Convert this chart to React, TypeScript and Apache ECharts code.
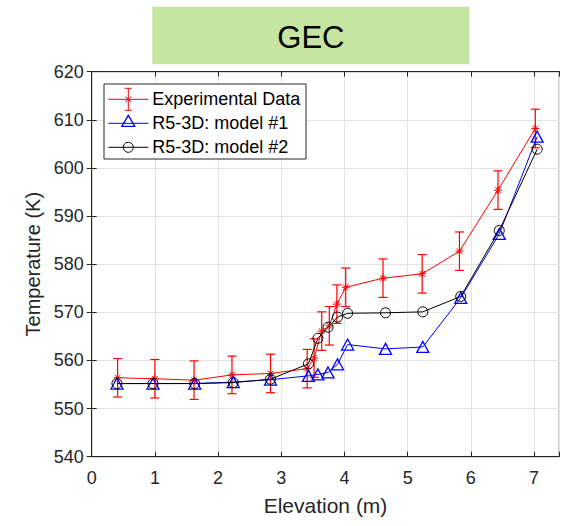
import React, { useEffect, useRef } from "react";
import * as echarts from "echarts";

// Measured elevations (m) and temperatures (K) with their uncertainty
const expElevation = [0.41, 1.0, 1.62, 2.22, 2.83, 3.41, 3.52, 3.64, 3.76, 3.88, 4.02, 4.61, 5.23, 5.82, 6.43, 7.02];
const expTemperature = [556.4, 556.2, 555.9, 557.0, 557.3, 558.3, 560.5, 566.1, 567.2, 571.7, 575.2, 577.1, 578.0, 582.7, 595.4, 608.2];
const expError = [4.0, 4.0, 4.0, 3.9, 4.0, 4.0, 4.0, 4.0, 4.0, 4.0, 4.0, 4.0, 4.0, 4.0, 4.0, 4.0];

// Simulation output locations shared by both models
const modelElevation = [0.4, 0.97, 1.63, 2.24, 2.83, 3.43, 3.58, 3.74, 3.89, 4.05, 4.65, 5.24, 5.84, 6.45, 7.05];
const model1Temperature = [555.2, 555.2, 555.2, 555.5, 556.0, 556.8, 557.1, 557.5, 559.2, 563.3, 562.4, 562.8, 573.0, 586.3, 606.5];
const model2Temperature = [555.2, 555.2, 555.2, 555.4, 556.1, 559.3, 564.6, 566.9, 569.0, 569.8, 569.9, 570.1, 573.3, 587.0, 603.9];

const xTicks = [0, 1, 2, 3, 4, 5, 6, 7];
const legendLabels = ["Experimental Data", "R5-3D: model #1", "R5-3D: model #2"];
const titleText = "GEC";

const FONT = "'Liberation Sans', Arial, Helvetica, sans-serif";
const INK = "#262626";
const RED = "#ff0000";
const BLUE = "#0000ff";
const BLACK = "#000000";
const ASTERISK = "path://M5,0L5,10M0,5L10,5M1.5,1.5L8.5,8.5M1.5,8.5L8.5,1.5";
const LEGEND_Z = 200;

function legendElements() {
  const bx = 104, by = 84, bw = 202, bh = 75;
  const rows = [99.3, 123.3, 147.3];
  const lx1 = 108.3, lx2 = 148.3, cx = 128.3, tx = 152.3;
  const colors = [RED, BLUE, BLACK];
  const els: any[] = [
    { type: "rect", z: LEGEND_Z, shape: { x: bx, y: by, width: bw, height: bh }, style: { fill: "#fff", stroke: INK, lineWidth: 1 } },
  ];
  const seg = (x1: number, y1: number, x2: number, y2: number, c: string) => ({
    type: "line",
    z: LEGEND_Z + 1,
    shape: { x1, y1, x2, y2 },
    style: { stroke: c, lineWidth: 1 },
  });
  rows.forEach((y, i) => {
    els.push(seg(lx1, y, lx2, y, colors[i]));
    els.push({
      type: "text",
      z: LEGEND_Z + 1,
      style: { x: tx, y: y, text: legendLabels[i], fill: BLACK, font: `18px ${FONT}`, verticalAlign: "middle", align: "left" },
    });
  });
  // error-bar glyph with asterisk
  const ey = rows[0];
  els.push(seg(cx, ey - 11, cx, ey + 11, RED));
  els.push(seg(cx - 3.5, ey - 11, cx + 3.5, ey - 11, RED));
  els.push(seg(cx - 3.5, ey + 11, cx + 3.5, ey + 11, RED));
  els.push(seg(cx - 2.8, ey - 2.8, cx + 2.8, ey + 2.8, RED));
  els.push(seg(cx - 2.8, ey + 2.8, cx + 2.8, ey - 2.8, RED));
  // triangle
  const ty = rows[1] - 2;
  els.push({
    type: "polygon",
    z: LEGEND_Z + 1,
    shape: { points: [[cx, ty - 6], [cx + 6.5, ty + 5], [cx - 6.5, ty + 5]] },
    style: { fill: "none", stroke: BLUE, lineWidth: 1.3 },
  });
  // circle
  els.push({ type: "circle", z: LEGEND_Z + 1, shape: { cx: cx, cy: rows[2], r: 5 }, style: { fill: "none", stroke: BLACK, lineWidth: 1 } });
  return els;
}

export default function App() {
  const ref = useRef<HTMLDivElement>(null);

  useEffect(() => {
    if (!ref.current) return;
    const chart = echarts.init(ref.current, null, { renderer: "svg" });

    const errData = expElevation.map((x, i) => [x, expTemperature[i] - expError[i], expTemperature[i] + expError[i]]);
    const expData = expElevation.map((x, i) => [x, expTemperature[i]]);
    const m1Data = modelElevation.map((x, i) => [x, model1Temperature[i]]);
    const m2Data = modelElevation.map((x, i) => [x, model2Temperature[i]]);

    const labelStyle = { color: INK, fontSize: 18, fontFamily: FONT };
    const tickStyle = { show: true, inside: true, length: 5, lineStyle: { color: INK, width: 1 } };
    const lineStyle = { show: true, lineStyle: { color: INK, width: 1 } };
    const gridLine = { show: true, lineStyle: { color: "#e4e4e4", width: 1 } };

    chart.setOption({
      animation: false,
      backgroundColor: "#ffffff",
      grid: { left: 91.7, top: 71.7, right: 17.7, bottom: 69.3, show: true, borderColor: INK, borderWidth: 1 },
      xAxis: [
        {
          type: "value",
          min: 0,
          max: 7.4,
          interval: 1,
          position: "bottom",
          axisLine: lineStyle,
          axisTick: tickStyle,
          splitLine: gridLine,
          axisLabel: {
            ...labelStyle,
            margin: 12,
            formatter: (v: number) => (xTicks.indexOf(v) >= 0 ? String(v) : ""),
          },
          name: "Elevation (m)",
          nameLocation: "middle",
          nameGap: 38,
          nameTextStyle: { color: INK, fontSize: 21, fontFamily: FONT },
        },
        {
          type: "value",
          min: 0,
          max: 7.4,
          interval: 1,
          position: "top",
          axisLine: lineStyle,
          axisTick: tickStyle,
          splitLine: { show: false },
          axisLabel: { show: false },
        },
      ],
      yAxis: [
        {
          type: "value",
          min: 540,
          max: 620,
          interval: 10,
          position: "left",
          axisLine: lineStyle,
          axisTick: tickStyle,
          splitLine: gridLine,
          axisLabel: { ...labelStyle, margin: 8 },
          name: "Temperature (K)",
          nameLocation: "middle",
          nameGap: 45,
          nameTextStyle: { color: INK, fontSize: 20, fontFamily: FONT },
        },
        {
          type: "value",
          min: 540,
          max: 620,
          interval: 10,
          position: "right",
          axisLine: lineStyle,
          axisTick: tickStyle,
          splitLine: { show: false },
          axisLabel: { show: false },
        },
      ],
      graphic: {
        z: LEGEND_Z,
        elements: [
          {
            type: "rect",
            z: LEGEND_Z,
            shape: { x: 152.3, y: 6.7, width: 317.2, height: 57.6 },
            style: { fill: "#c5e5a0" },
          },
          {
            type: "text",
            z: LEGEND_Z + 1,
            style: {
              x: 310.9,
              y: 37.5,
              text: titleText,
              fill: BLACK,
              font: `31px ${FONT}`,
              align: "center",
              verticalAlign: "middle",
            },
          },
          ...legendElements(),
        ],
      },
      series: [
        {
          type: "custom",
          name: "errorbars",
          xAxisIndex: 0,
          yAxisIndex: 0,
          data: errData,
          encode: { x: 0, y: [1, 2] },
          z: 2,
          renderItem: (params: any, api: any) => {
            const x = api.value(0);
            const lo = api.coord([x, api.value(1)]);
            const hi = api.coord([x, api.value(2)]);
            const w = 4.5;
            const st = { stroke: RED, lineWidth: 1.2 };
            return {
              type: "group",
              children: [
                { type: "line", shape: { x1: lo[0], y1: lo[1], x2: hi[0], y2: hi[1] }, style: st },
                { type: "line", shape: { x1: lo[0] - w, y1: lo[1], x2: lo[0] + w, y2: lo[1] }, style: st },
                { type: "line", shape: { x1: hi[0] - w, y1: hi[1], x2: hi[0] + w, y2: hi[1] }, style: st },
              ],
            };
          },
        },
        {
          type: "line",
          name: legendLabels[0],
          data: expData,
          z: 3,
          symbol: ASTERISK,
          symbolSize: 8,
          showAllSymbol: true,
          lineStyle: { color: RED, width: 1 },
          itemStyle: { color: "rgba(0,0,0,0)", borderColor: RED, borderWidth: 1 },
        },
        {
          type: "line",
          name: legendLabels[1],
          data: m1Data,
          z: 4,
          symbol: "triangle",
          symbolSize: [12, 11],
          showAllSymbol: true,
          lineStyle: { color: BLUE, width: 1 },
          itemStyle: { color: "rgba(0,0,0,0)", borderColor: BLUE, borderWidth: 1.3 },
        },
        {
          type: "line",
          name: legendLabels[2],
          data: m2Data,
          z: 5,
          symbol: "circle",
          symbolSize: 10,
          showAllSymbol: true,
          lineStyle: { color: BLACK, width: 1 },
          itemStyle: { color: "rgba(0,0,0,0)", borderColor: BLACK, borderWidth: 1 },
        },
      ],
    });

    return () => chart.dispose();
  }, []);

  return (
    <div
      ref={ref}
      style={{ position: "absolute", left: 0, top: 0, width: 577, height: 526, background: "#fff" }}
    />
  );
}
